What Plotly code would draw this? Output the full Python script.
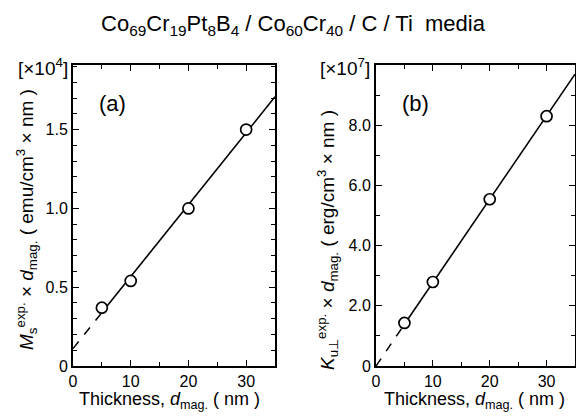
import numpy as np
import plotly.graph_objects as go

# ---- data ----
thickness = [5, 10, 20, 30]               # nm
ms_d = [0.37, 0.54, 1.0, 1.5]             # x1e4 emu/cm3 x nm
ku_d = [1.43, 2.79, 5.54, 8.30]           # x1e7 erg/cm3 x nm

x_ticks = [0, 10, 20, 30]
x_ticktext = ["0", "10", "20", "30"]
ya_ticks = [0, 0.5, 1.0, 1.5]
ya_ticktext = ["0", "0.5", "1.0", "1.5"]
yb_ticks = [0, 2, 4, 6, 8]
yb_ticktext = ["0", "2.0", "4.0", "6.0", "8.0"]

# page body has an 8px margin on every side; keep the figure inside it (no scrollbars)
OFF = 8
W, H = 584 - 2 * OFF, 420 - 2 * OFF
FONT = "Liberation Sans, Arial, Helvetica, sans-serif"

# linear fits
xa = np.array(thickness, float)
slope_a, icpt_a = np.polyfit(xa, np.array(ms_d), 1)
slope_b = float(np.sum(xa * np.array(ku_d)) / np.sum(xa * xa))  # through origin

x_dash = np.array([0.0, min(thickness)])
x_solid = np.array([min(thickness), 35.0])

fig = go.Figure()

def add_panel(xref, yref, fx_dash, fx_solid, ydata):
    fig.add_trace(go.Scatter(x=x_dash, y=fx_dash, mode="lines", xaxis=xref, yaxis=yref,
                             line=dict(color="black", width=1.5, dash="dash"), showlegend=False))
    fig.add_trace(go.Scatter(x=x_solid, y=fx_solid, mode="lines", xaxis=xref, yaxis=yref,
                             line=dict(color="black", width=1.6), showlegend=False))
    fig.add_trace(go.Scatter(x=thickness, y=ydata, mode="markers", xaxis=xref, yaxis=yref,
                             marker=dict(symbol="circle", size=11, color="white",
                                         line=dict(color="black", width=1.7)),
                             showlegend=False))

add_panel("x", "y", slope_a * x_dash + icpt_a, slope_a * x_solid + icpt_a, ms_d)
add_panel("x2", "y2", slope_b * x_dash, slope_b * x_solid, ku_d)

def px(xp):
    return (xp - OFF) / W

def py(yp):
    return 1 - (yp - OFF) / H

ydom = [py(366), py(65)]
axis_common = dict(showgrid=False, zeroline=False, showline=True, linecolor="black", linewidth=2,
                   mirror="allticks", ticks="inside", ticklen=6, tickwidth=1.4, tickcolor="black",
                   tickfont=dict(family=FONT, size=16, color="black"), automargin=False)
minor_x = dict(dtick=5, ticks="inside", ticklen=4, tickwidth=1.2, tickcolor="black")

fig.update_layout(
    width=W, height=H, margin=dict(l=0, r=0, t=0, b=0),
    paper_bgcolor="white", plot_bgcolor="white",
    xaxis=dict(domain=[px(73), px(275)], range=[0, 35], tickvals=x_ticks, ticktext=x_ticktext,
               minor=minor_x, anchor="y", ticklabelstandoff=0, **axis_common),
    yaxis=dict(domain=ydom, range=[0, 1.91], tickvals=ya_ticks, ticktext=ya_ticktext,
               minor=dict(dtick=0.1, ticks="inside", ticklen=4, tickwidth=1.2, tickcolor="black"),
               anchor="x", **axis_common),
    xaxis2=dict(domain=[px(376), px(575)], range=[0, 35], tickvals=x_ticks, ticktext=x_ticktext,
                minor=minor_x, anchor="y2", ticklabelstandoff=0, **axis_common),
    yaxis2=dict(domain=ydom, range=[0, 10], tickvals=yb_ticks, ticktext=yb_ticktext,
                minor=dict(dtick=1, ticks="inside", ticklen=4, tickwidth=1.2, tickcolor="black"),
                anchor="x2", **axis_common),
)

def ann(text, x, y, size, angle=0, xanchor="center", yanchor="middle"):
    fig.add_annotation(text=text, x=px(x), y=py(y), xref="paper", yref="paper",
                       showarrow=False, textangle=angle, xanchor=xanchor, yanchor=yanchor,
                       font=dict(family=FONT, size=size, color="black"))

ann("Co<sub>69</sub>Cr<sub>19</sub>Pt<sub>8</sub>B<sub>4</sub> / Co<sub>60</sub>Cr<sub>40</sub> / C / Ti  media",
    293, 25, 22)
ann("[×10<sup>4</sup>]", 70, 67, 19, xanchor="right")
ann("[×10<sup>7</sup>]", 372, 67, 19, xanchor="right")
ann("(a)", 112, 103, 22)
ann("(b)", 415, 103, 22)
ann("Thickness, <i>d</i><sub>mag.</sub> ( nm )", 169, 400, 18)
ann("Thickness, <i>d</i><sub>mag.</sub> ( nm )", 474, 400, 18)
ann("<i>M</i><sub>s</sub><sup>exp.</sup> × <i>d</i><sub>mag.</sub> ( emu/cm<sup>3</sup> × nm )",
    26, 220, 19, angle=-90)
ann("<i>K</i><sub>u⊥</sub><sup>exp.</sup> × <i>d</i><sub>mag.</sub> ( erg/cm<sup>3</sup> × nm )",
    328, 240, 19, angle=-90)

fig.write_html("out.html")
